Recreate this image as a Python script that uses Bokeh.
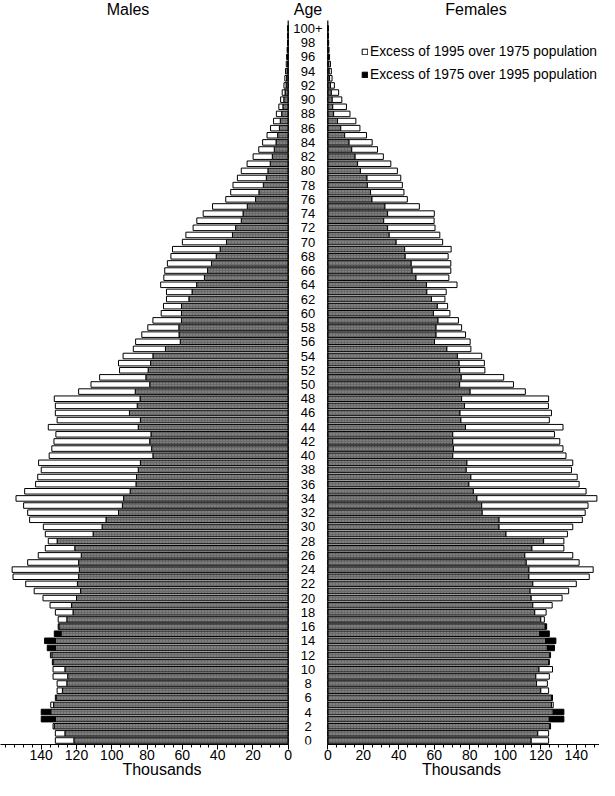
from bokeh.plotting import figure
from bokeh.layouts import row
from bokeh.models import Range1d, FixedTicker, Legend, LegendItem
from bokeh.core.properties import value
from bokeh.embed import file_html
from bokeh.resources import INLINE

# ---------------- data (thousands) ----------------
ages = list(range(0, 101))

males_1975 = [121.5, 126.6, 132.6, 140, 140, 133, 131.5, 128, 125.5, 125,
              126.6, 133.3, 134, 136.6, 138.1, 132.6, 130, 125.5, 122, 122.8,
              120, 117.7, 119.5, 118.8, 118.4, 118.8, 117.3, 121, 131, 110.6,
              105.5, 103.3, 96.2, 94, 93.3, 89.6, 86.3, 86, 85, 83.8,
              76.7, 77.4, 78.5, 77.8, 85, 83.8, 90, 85.6, 84, 86.7,
              78.5, 80.7, 79.4, 78, 76.7, 69.6, 61.2, 61.9, 62, 60.5,
              60.5, 60.5, 56.3, 54.5, 51.9, 47.5, 45.7, 43.5, 40.8, 38.6,
              35, 31.6, 29.8, 26.6, 25.6, 23.2, 18.5, 16.6, 14.1, 12.4,
              11.5, 10.2, 9, 7.9, 6.9, 6, 5, 4.5, 3.7, 3,
              2.5, 1.8, 1.2, 0.9, 0.7, 0.5, 0.4, 0.3, 0.2, 0.1, 0.1]

males_1995 = [132, 132, 133.3, 132, 134.6, 134.6, 132, 131, 131, 133.3,
              133.3, 133.7, 134.8, 132, 132, 128.8, 130.4, 130.4, 132, 135,
              139, 144, 148.8, 156, 156.5, 147.7, 141.7, 137.7, 136, 137.7,
              138.8, 146.6, 147.7, 150, 154.3, 149.4, 143.2, 142, 140, 141.5,
              135.5, 134, 132.8, 131.7, 136, 131, 132, 132, 132.6, 118.8,
              111.8, 106.9, 95.6, 96.2, 93.6, 87.8, 86.5, 83, 79.6, 76.7,
              72, 70.7, 69, 69, 72.3, 70.5, 70, 68.5, 66.5, 65.6,
              60, 58, 53.9, 51.8, 48.2, 42.9, 35.4, 32.6, 31.3, 28.8,
              26.6, 23.3, 19.9, 16.7, 14.5, 12, 10, 8.3, 6.7, 5.3,
              4.3, 3.4, 2.4, 1.9, 1.5, 1.1, 0.9, 0.6, 0.4, 0.3, 0.3]

females_1975 = [114.6, 118.3, 125, 133, 133, 126, 126, 120, 117.6, 117.2,
                119, 124.5, 125, 127.7, 128.5, 124.8, 123.3, 120, 116.6, 115.5,
                114.6, 114, 115.5, 113.3, 113.3, 111.8, 111, 115, 121.6, 100.4,
                96.5, 96.5, 87, 86.7, 84, 82, 79.5, 80.6, 78, 78.4,
                70.4, 70.8, 70.4, 70.4, 77.6, 75, 74.5, 77, 75.4, 80.2,
                74.3, 75.2, 74.3, 74, 73, 67.1, 60.1, 61, 61, 62.1,
                59.5, 61.7, 58.4, 55.8, 55.6, 49.7, 47.5, 47, 43.6, 43.3,
                38.5, 34.6, 33.7, 31.5, 33.7, 32.2, 24.9, 24.1, 22.3, 22.1,
                18.4, 16.8, 15.4, 13.5, 12, 9.5, 7.3, 5.5, 3.3, 2.8,
                2.5, 2.0, 1.5, 1.0, 0.8, 0.6, 0.4, 0.3, 0.2, 0.1, 0.1]

females_1995 = [124.4, 124.4, 125.5, 124.8, 127, 127, 126.6, 124.4, 123.7, 124.8,
                126.6, 124.8, 125.5, 123.7, 122.7, 119.4, 122.5, 122, 123, 126.4,
                132, 135.7, 140, 147.3, 149.5, 141.6, 138, 133, 133, 135,
                138, 143.4, 145, 146.6, 151.6, 145.5, 141.6, 140.5, 137.3, 138,
                134.2, 132.5, 130.7, 127.7, 132.5, 124.8, 126, 124.3, 124.4, 111.3,
                104.6, 99.1, 88.5, 88.2, 86.7, 80.6, 80.2, 77.6, 75.4, 73.6,
                68.8, 67.5, 66, 66.7, 72.8, 68.2, 69.3, 69.3, 67.8, 69.5,
                64.7, 63.1, 60.4, 59.9, 60, 51.6, 44.8, 42.9, 42, 41.1,
                39.2, 35.5, 31.3, 28, 25, 21.8, 18.1, 15.8, 12.5, 10.5,
                7.9, 6.1, 3.7, 2.4, 2.0, 1.5, 1.0, 0.7, 0.5, 0.3, 0.3]

age_label_pos = list(range(0, 100, 2)) + [100]
age_label_text = [str(a) for a in range(0, 100, 2)] + ["100+"]
thousand_ticks = [0, 20, 40, 60, 80, 100, 120, 140]
thousand_minor = list(range(0, 165, 5))

legend_labels = ["Excess of 1995 over 1975 population",
                 "Excess of 1975 over 1995 population"]

# ---------------- style / layout ----------------
FONT = "Liberation Sans"
FIG_H = 780
BOTTOM = 35
FRAME_H = FIG_H - BOTTOM
AGE100_PX, AGE0_PX = 28.0, 741.0          # vertical placement inside frame
PITCH = (AGE0_PX - AGE100_PX) / 100.0
Y1 = 100 + AGE100_PX / PITCH
Y0 = -(FRAME_H - AGE0_PX) / PITCH
LINE_TOP = 100 + (AGE100_PX - 20) / PITCH
BAR_H = 0.78
GRAY = "#6a6a6a"

M_ZERO, M_SCALE = 287.7, 1.764             # male zero (px) and px per thousand
F_ZERO, F_SCALE = 327.3, 1.775
SPLIT, TOTAL_W = 323, 599
M_RANGE = (M_ZERO / M_SCALE, (M_ZERO - SPLIT) / M_SCALE)
F_RANGE = ((SPLIT - F_ZERO) / F_SCALE, (TOTAL_W - F_ZERO) / F_SCALE)
AGE_COL_X = (M_ZERO - 307.5) / M_SCALE


def draw_side(p, v75, v95):
    lo = [min(a, b) for a, b in zip(v75, v95)]
    p.hbar(y=ages, left=0, right=lo, height=BAR_H, fill_color=GRAY,
           line_color="black", line_width=1,
           hatch_pattern="dot", hatch_color="white", hatch_alpha=0.35,
           hatch_scale=3, hatch_weight=0.8)
    wi = [i for i in range(len(ages)) if v95[i] > v75[i]]
    bi = [i for i in range(len(ages)) if v75[i] > v95[i]]
    wr = p.hbar(y=[ages[i] for i in wi], left=[v75[i] for i in wi],
                right=[v95[i] for i in wi], height=BAR_H, fill_color="white",
                line_color="black", line_width=1)
    br = p.hbar(y=[ages[i] for i in bi], left=[v95[i] for i in bi],
                right=[v75[i] for i in bi], height=BAR_H, fill_color="black",
                line_color="black", line_width=1)
    p.segment(x0=[0], y0=[Y0], x1=[0], y1=[LINE_TOP], line_color="black",
              line_width=1.2)
    return wr, br


def style_axis(ax, bound):
    ax.ticker = FixedTicker(ticks=thousand_ticks, minor_ticks=thousand_minor)
    ax.bounds = (0, bound)
    ax.axis_label = "Thousands"
    ax.axis_label_text_font = FONT
    ax.axis_label_text_font_size = "16px"
    ax.axis_label_text_font_style = "normal"
    ax.axis_label_text_color = "black"
    ax.axis_label_standoff = -2
    ax.major_label_text_font = FONT
    ax.major_label_text_font_size = "14px"
    ax.major_label_text_color = "black"
    ax.major_label_standoff = 0
    ax.major_tick_in = 0
    ax.major_tick_out = 5
    ax.minor_tick_in = 0
    ax.minor_tick_out = 3
    ax.axis_line_color = "black"
    ax.major_tick_line_color = "black"
    ax.minor_tick_line_color = "black"


def base_fig(width, xr):
    p = figure(width=width, height=FIG_H, x_range=Range1d(*xr),
               y_range=Range1d(Y0, Y1), output_backend="svg",
               toolbar_location=None, y_axis_location=None,
               min_border_left=0, min_border_right=0, min_border_top=0,
               min_border_bottom=BOTTOM)
    p.grid.visible = False
    p.outline_line_color = None
    p.background_fill_color = "white"
    return p


# males (reversed axis, also hosts the age column)
pm = base_fig(SPLIT, M_RANGE)
draw_side(pm, males_1975, males_1995)
style_axis(pm.xaxis[0], M_RANGE[0])
pm.text(x=[AGE_COL_X] * len(age_label_pos), y=age_label_pos,
        text=age_label_text, text_align="center", text_baseline="middle",
        text_font=value(FONT), text_font_size="13px", text_color="black")
pm.text(x=[(M_ZERO - 127.5) / M_SCALE], y=[Y1], text=["Males"],
        text_align="center", text_baseline="top", text_font=value(FONT),
        text_font_size="16px", text_color="black")
pm.text(x=[AGE_COL_X], y=[Y1], text=["Age"], text_align="center",
        text_baseline="top", text_font=value(FONT), text_font_size="16px",
        text_color="black")

# females
pf = base_fig(TOTAL_W - SPLIT, F_RANGE)
wr, br = draw_side(pf, females_1975, females_1995)
style_axis(pf.xaxis[0], F_RANGE[1])
pf.text(x=[(475.5 - F_ZERO) / F_SCALE], y=[Y1], text=["Females"],
        text_align="center", text_baseline="top", text_font=value(FONT),
        text_font_size="16px", text_color="black")

LEG_TOP, LEG_H = 42, 43
legend = Legend(items=[LegendItem(label=legend_labels[0], renderers=[wr]),
                       LegendItem(label=legend_labels[1], renderers=[br])],
                location=(361 - SPLIT, FRAME_H - LEG_TOP - LEG_H))
legend.padding = 0
legend.margin = 0
legend.spacing = 3
legend.label_height = 20
legend.glyph_width = 7
legend.glyph_height = 7
legend.label_standoff = 2
legend.label_text_font = FONT
legend.label_text_font_size = "13.8px"
legend.label_text_color = "black"
legend.border_line_color = None
legend.background_fill_alpha = 0
pf.add_layout(legend)

layout = row(pm, pf)
open("out.html", "w").write(file_html(layout, INLINE))
